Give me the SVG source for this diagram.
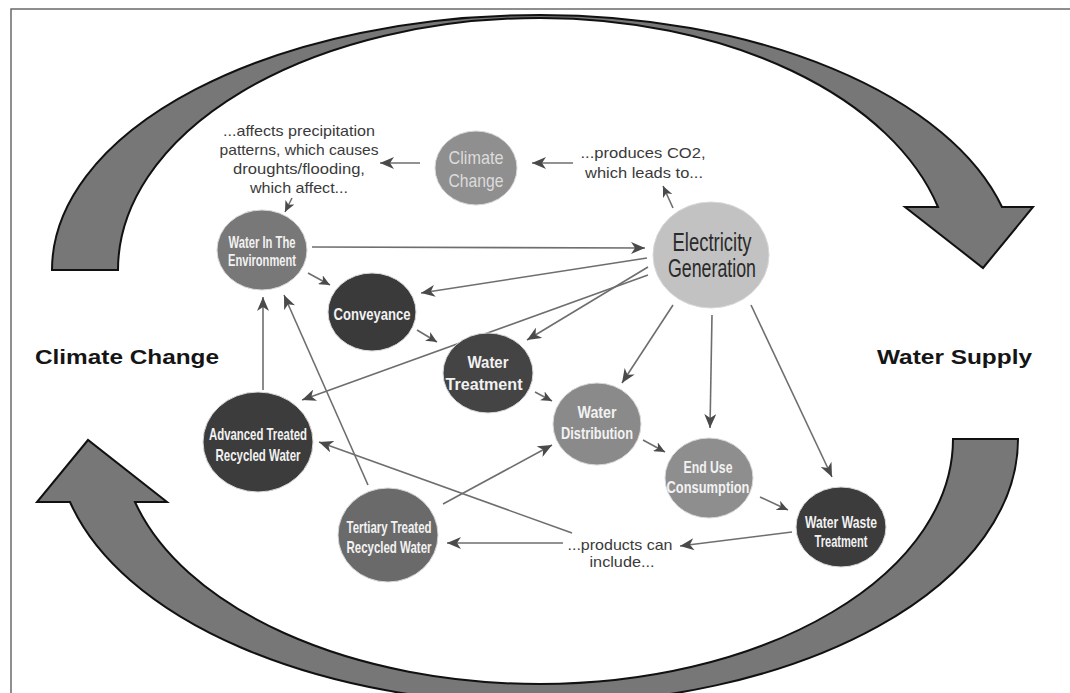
<svg xmlns="http://www.w3.org/2000/svg" width="1070" height="693" viewBox="0 0 1070 693">
<style>
.frame{fill:none;stroke:#6a6a6a;stroke-width:1.5}
.big{fill:#777;stroke:#111;stroke-width:2;stroke-linejoin:miter}
.title{font-family:"Liberation Sans",Arial,sans-serif;font-weight:bold;font-size:21px;fill:#151515}
.note{font-family:"Liberation Sans",Arial,sans-serif;font-size:15px;fill:#3a3a3a;text-anchor:middle}
.nt{font-family:"Liberation Sans",Arial,sans-serif;font-size:17px;font-weight:bold;fill:#f2f2f2;text-anchor:middle}
.ntl{font-family:"Liberation Sans",Arial,sans-serif;font-size:19px;fill:#dcdcdc;text-anchor:middle}
.ntd{font-family:"Liberation Sans",Arial,sans-serif;font-size:25px;fill:#2a2a2a;text-anchor:middle}
.c{stroke:#d8d8d8;stroke-width:1}
.ln{fill:none;stroke:#6e6e6e;stroke-width:1.6}
</style>
<defs>
<marker id="ah" markerUnits="userSpaceOnUse" markerWidth="16" markerHeight="12" refX="14" refY="6" orient="auto">
<path d="M0,0 L14,6 L0,12 L4,6 Z" fill="#4a4a4a"/>
</marker>
<marker id="as" markerUnits="userSpaceOnUse" markerWidth="13" markerHeight="10" refX="11" refY="5" orient="auto">
<path d="M0,0 L11,5 L0,10 L3,5 Z" fill="#4a4a4a"/>
</marker>
</defs>
<rect width="1070" height="693" fill="#fff"/>
<rect class="frame" x="11" y="9" width="1100" height="720"/>

<g id="arrow-top">
<path class="big" d="M52 270 A488 255 0 0 1 540 15 A477 255 0 0 1 1002 207 L1033 207 L983 268 L905 207 L938 207 A411 252 0 0 0 540 18 A422 252 0 0 0 118 270 Z"/>
</g>
<g id="arrow-bottom">
<path class="big" d="M1018 439 A478 265 0 0 1 540 704 A483 264 0 0 1 70 502 L37 502 L88 440 L167 502 L135 502 A419 245 0 0 0 540 684 A413 245 0 0 0 953 439 Z"/>
</g>

<g id="label-climate"><text class="title" x="35" y="364" textLength="184" lengthAdjust="spacingAndGlyphs">Climate Change</text></g>
<g id="label-water"><text class="title" x="877" y="364" textLength="155" lengthAdjust="spacingAndGlyphs">Water Supply</text></g>

<g id="note-affects">
<text class="note" x="299" y="136" textLength="152" lengthAdjust="spacingAndGlyphs">...affects precipitation</text>
<text class="note" x="299" y="155" textLength="159" lengthAdjust="spacingAndGlyphs">patterns, which causes</text>
<text class="note" x="299" y="174" textLength="132" lengthAdjust="spacingAndGlyphs">droughts/flooding,</text>
<text class="note" x="299" y="193" textLength="98" lengthAdjust="spacingAndGlyphs">which affect...</text>
</g>
<g id="note-co2">
<text class="note" x="643" y="158" textLength="125" lengthAdjust="spacingAndGlyphs">...produces CO2,</text>
<text class="note" x="644" y="178" textLength="118" lengthAdjust="spacingAndGlyphs">which leads to...</text>
</g>
<g id="note-products">
<text class="note" x="620" y="550" textLength="105" lengthAdjust="spacingAndGlyphs">...products can</text>
<text class="note" x="622" y="567" textLength="65" lengthAdjust="spacingAndGlyphs">include...</text>
</g>

<g id="connectors">
<line class="ln" x1="420" y1="163" x2="380" y2="163" marker-end="url(#ah)"/>
<line class="ln" x1="573" y1="163" x2="532" y2="163" marker-end="url(#ah)"/>
<line class="ln" x1="673" y1="208" x2="663" y2="186" marker-end="url(#as)"/>
<line class="ln" x1="292" y1="198" x2="285" y2="212" marker-end="url(#as)"/>
<line class="ln" x1="312" y1="247" x2="645" y2="248" marker-end="url(#ah)"/>
<line class="ln" x1="308" y1="273" x2="330" y2="285" marker-end="url(#as)"/>
<line class="ln" x1="647" y1="258" x2="421" y2="293" marker-end="url(#ah)"/>
<line class="ln" x1="417" y1="330" x2="437" y2="342" marker-end="url(#as)"/>
<line class="ln" x1="648" y1="267" x2="527" y2="340" marker-end="url(#ah)"/>
<line class="ln" x1="648" y1="275" x2="302" y2="400" marker-end="url(#ah)"/>
<line class="ln" x1="263" y1="390" x2="263" y2="297" marker-end="url(#ah)"/>
<line class="ln" x1="368" y1="485" x2="284" y2="295" marker-end="url(#ah)"/>
<line class="ln" x1="535" y1="392" x2="552" y2="401" marker-end="url(#as)"/>
<line class="ln" x1="673" y1="305" x2="622" y2="383" marker-end="url(#ah)"/>
<line class="ln" x1="712" y1="315" x2="710" y2="428" marker-end="url(#ah)"/>
<line class="ln" x1="751" y1="305" x2="832" y2="477" marker-end="url(#ah)"/>
<line class="ln" x1="643" y1="440" x2="665" y2="452" marker-end="url(#as)"/>
<line class="ln" x1="760" y1="497" x2="788" y2="510" marker-end="url(#as)"/>
<line class="ln" x1="443" y1="504" x2="552" y2="445" marker-end="url(#ah)"/>
<line class="ln" x1="792" y1="532" x2="680" y2="546" marker-end="url(#ah)"/>
<line class="ln" x1="563" y1="543" x2="447" y2="543" marker-end="url(#ah)"/>
<line class="ln" x1="572" y1="533" x2="319" y2="442" marker-end="url(#ah)"/>
</g>

<g id="node-climate">
<ellipse class="c" cx="476" cy="168" rx="41" ry="37" fill="#8f8f8f"/>
<text class="ntl" x="476" y="164" textLength="55" lengthAdjust="spacingAndGlyphs">Climate</text>
<text class="ntl" x="476" y="187" textLength="55" lengthAdjust="spacingAndGlyphs">Change</text>
</g>
<g id="node-environment">
<ellipse class="c" cx="262" cy="250" rx="45" ry="40" fill="#787878"/>
<text class="nt" x="262" y="248" textLength="67" lengthAdjust="spacingAndGlyphs" font-size="15" fill="#e6e6e6">Water In The</text>
<text class="nt" x="262" y="266" textLength="68" lengthAdjust="spacingAndGlyphs" font-size="15" fill="#e6e6e6">Environment</text>
</g>
<g id="node-conveyance">
<ellipse class="c" cx="372" cy="312" rx="44" ry="39" fill="#3a3a3a"/>
<text class="nt" x="372" y="320" textLength="77" lengthAdjust="spacingAndGlyphs" font-size="18">Conveyance</text>
</g>
<g id="node-electricity">
<ellipse class="c" cx="711" cy="255" rx="58" ry="53" fill="#c2c2c2"/>
<text class="ntd" x="712" y="251" textLength="79" lengthAdjust="spacingAndGlyphs">Electricity</text>
<text class="ntd" x="712" y="277" textLength="88" lengthAdjust="spacingAndGlyphs">Generation</text>
</g>
<g id="node-treatment">
<ellipse class="c" cx="488" cy="373" rx="45" ry="40" fill="#444"/>
<text class="nt" x="488" y="368" textLength="41" lengthAdjust="spacingAndGlyphs">Water</text>
<text class="nt" x="484" y="390" textLength="77" lengthAdjust="spacingAndGlyphs">Treatment</text>
</g>
<g id="node-advanced">
<ellipse class="c" cx="258" cy="442" rx="55" ry="50" fill="#3c3c3c"/>
<text class="nt" x="258" y="440" textLength="98" lengthAdjust="spacingAndGlyphs" font-size="16">Advanced Treated</text>
<text class="nt" x="258" y="461" textLength="85" lengthAdjust="spacingAndGlyphs" font-size="16">Recycled Water</text>
</g>
<g id="node-tertiary">
<ellipse class="c" cx="388" cy="535" rx="50" ry="47" fill="#6a6a6a"/>
<text class="nt" x="389" y="533" textLength="85" lengthAdjust="spacingAndGlyphs" font-size="16">Tertiary Treated</text>
<text class="nt" x="389" y="553" textLength="85" lengthAdjust="spacingAndGlyphs" font-size="16">Recycled Water</text>
</g>
<g id="node-distribution">
<ellipse class="c" cx="597" cy="424" rx="44" ry="41" fill="#8a8a8a"/>
<text class="nt" x="597" y="418" textLength="39" lengthAdjust="spacingAndGlyphs" fill="#e8e8e8">Water</text>
<text class="nt" x="597" y="439" textLength="72" lengthAdjust="spacingAndGlyphs" fill="#e8e8e8">Distribution</text>
</g>
<g id="node-enduse">
<ellipse class="c" cx="709" cy="478" rx="44" ry="40" fill="#8e8e8e"/>
<text class="nt" x="708" y="473" textLength="49" lengthAdjust="spacingAndGlyphs" fill="#e8e8e8">End Use</text>
<text class="nt" x="708" y="493" textLength="83" lengthAdjust="spacingAndGlyphs" fill="#e8e8e8">Consumption</text>
</g>
<g id="node-wastewater">
<ellipse class="c" cx="841" cy="527" rx="45" ry="40" fill="#3c3c3c"/>
<text class="nt" x="841" y="528" textLength="72" lengthAdjust="spacingAndGlyphs" font-size="16">Water Waste</text>
<text class="nt" x="841" y="547" textLength="53" lengthAdjust="spacingAndGlyphs" font-size="16">Treatment</text>
</g>
</svg>
